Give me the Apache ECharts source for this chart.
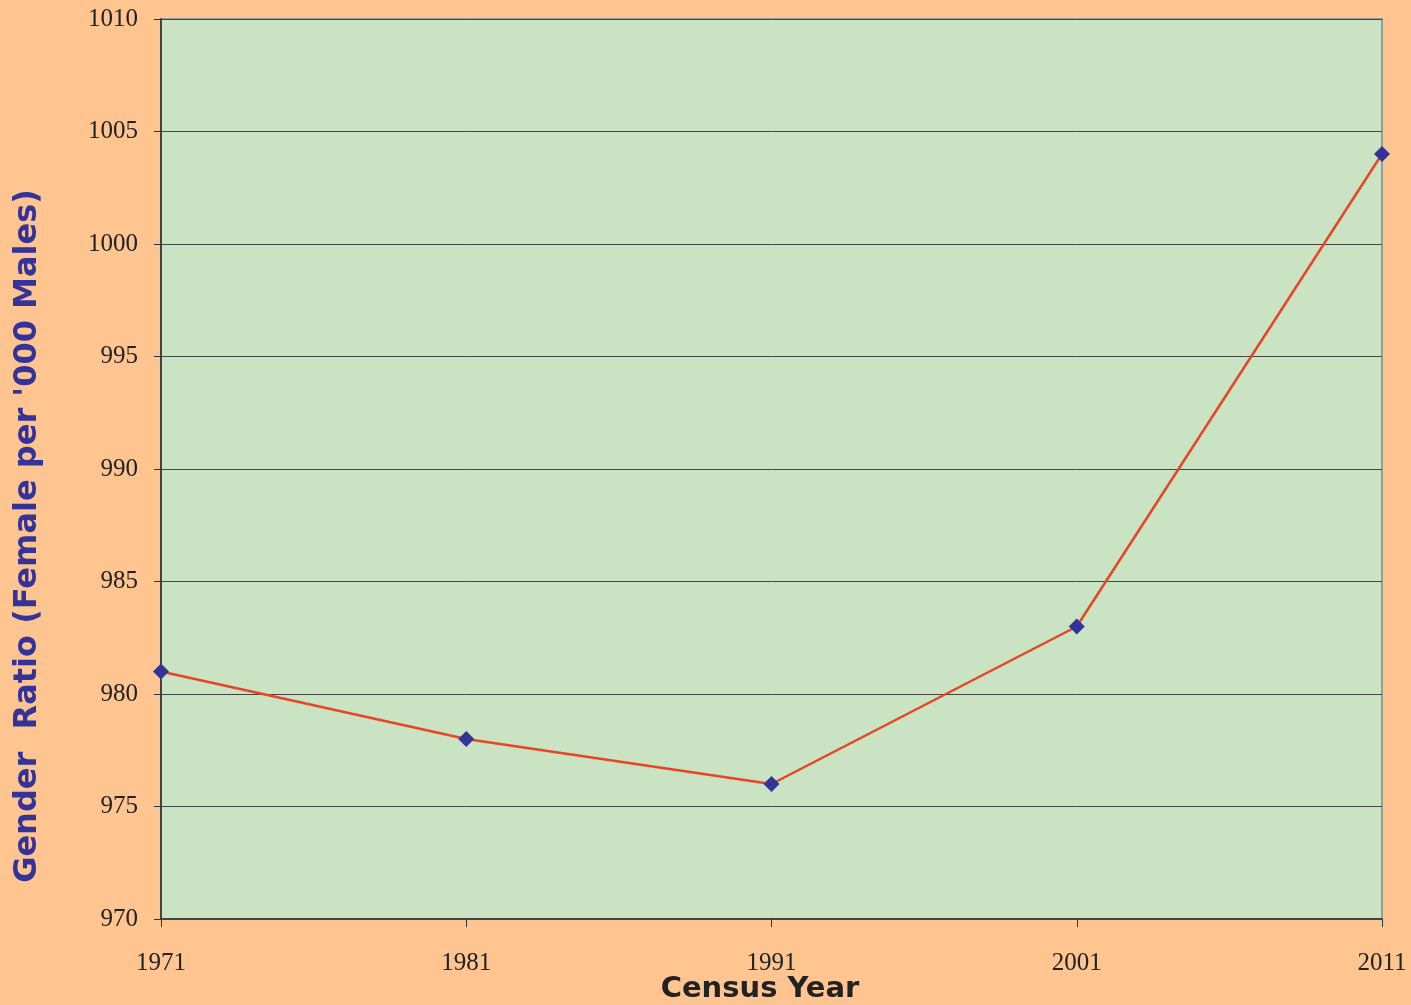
<!DOCTYPE html>
<html>
<head>
<meta charset="utf-8">
<script src="https://cdn.jsdelivr.net/npm/echarts@6/dist/echarts.min.js"></script>
<style>
	html, body { margin: 0; padding: 0; background: #FFC591; }
	#chart { width: 1411px; height: 1005px; }
</style>
</head>
<body>
<div id="chart"></div>
<script>
	var years = ['1971', '1981', '1991', '2001', '2011'];
	var ratio = [981, 978, 976, 983, 1004];
	var yTitle = "Gender  Ratio (Female per '000 Males)";
	var xTitle = 'Census Year';

	var chart = echarts.init(document.getElementById('chart'));
	var option = {
		backgroundColor: '#FFC591',
		animation: false,
		grid: {
			left: 161,
			right: 29,
			top: 19,
			bottom: 86,
			containLabel: false,
			outerBoundsMode: 'none',
			show: true,
			backgroundColor: '#C9E3C3',
			borderColor: '#9a9a9a',
			borderWidth: 2
		},
		// axis titles are not centred on the plot in the original, so place them by hand
		graphic: [{
			type: 'text',
			x: 28,
			y: 536,
			rotation: Math.PI / 2,
			style: {
				text: yTitle,
				fill: '#333399',
				font: 'bold 32px "DejaVu Sans"',
				align: 'center',
				verticalAlign: 'middle'
			}
		}, {
			type: 'text',
			x: 760,
			y: 989,
			style: {
				text: xTitle,
				fill: '#222222',
				font: 'bold 29px "DejaVu Sans"',
				align: 'center',
				verticalAlign: 'middle'
			}
		}],
		xAxis: {
			type: 'category',
			data: years,
			boundaryGap: false,
			axisLine: {
				show: true,
				lineStyle: { color: '#444444', width: 2 }
			},
			axisTick: {
				show: true,
				alignWithLabel: true,
				length: 8,
				lineStyle: { color: '#333333' }
			},
			axisLabel: {
				margin: 32,
				fontFamily: 'Liberation Serif',
				fontSize: 25,
				color: '#222222'
			},
			splitLine: { show: false }
		},
		yAxis: {
			type: 'value',
			min: 970,
			max: 1010,
			interval: 5,
			axisLine: {
				show: true,
				lineStyle: { color: '#444444', width: 2 }
			},
			axisTick: {
				show: true,
				length: 7,
				lineStyle: { color: '#333333' }
			},
			axisLabel: {
				margin: 23,
				fontFamily: 'Liberation Serif',
				fontSize: 25,
				color: '#222222',
				formatter: function (value) {
					return String(value);
				}
			},
			splitLine: {
				show: true,
				lineStyle: { color: '#444444', width: 1 }
			}
		},
		series: [{
			type: 'line',
			data: ratio,
			symbol: 'diamond',
			symbolSize: 16,
			itemStyle: { color: '#333399' },
			lineStyle: { color: '#EA4426', width: 2.5 }
		}]
	};
	chart.setOption(option);
</script>
</body>
</html>
